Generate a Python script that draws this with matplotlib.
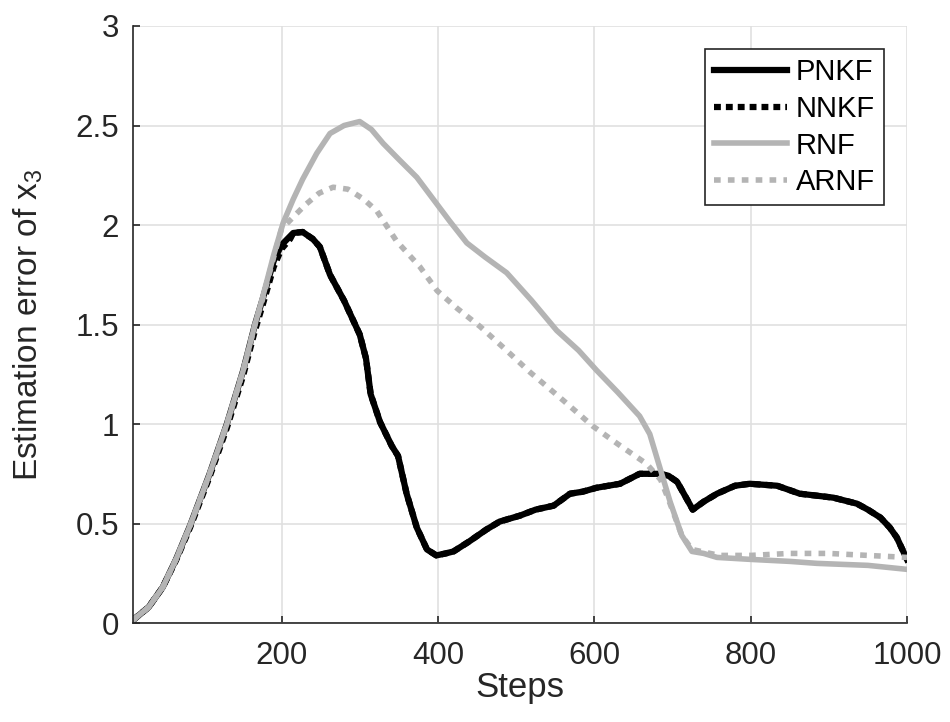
import matplotlib
matplotlib.use("Agg")
import matplotlib.pyplot as plt

# values
rnf_x = [10, 30, 48, 65, 83, 108, 130, 151, 166, 176, 190, 202, 215, 227, 245,
         262, 280, 300, 315, 330, 350, 373, 394, 415, 437, 460, 488, 520, 552,
         580, 603, 630, 658, 671, 684, 697, 712, 725, 740, 757, 800, 850, 885,
         950, 1000]
rnf_y = [0.015, 0.08, 0.18, 0.32, 0.49, 0.75, 1.00, 1.27, 1.50, 1.64, 1.85, 2.01,
         2.13, 2.23, 2.36, 2.46, 2.50, 2.52, 2.48, 2.41, 2.33, 2.24, 2.13, 2.02,
         1.91, 1.84, 1.76, 1.62, 1.47, 1.37, 1.27, 1.16, 1.04, 0.95, 0.78, 0.61,
         0.44, 0.36, 0.35, 0.33, 0.32, 0.31, 0.30, 0.29, 0.27]

arnf_x = [10, 30, 48, 65, 83, 108, 130, 151, 166, 176, 190, 200, 215, 230, 248,
          266, 285, 305, 322, 347, 377, 399, 425, 454, 485, 518, 560, 598, 630,
          667, 685, 697, 712, 725, 760, 800, 850, 900, 950, 1000]
arnf_y = [0.015, 0.08, 0.18, 0.32, 0.49, 0.75, 1.00, 1.27, 1.50, 1.63, 1.84, 1.98,
          2.04, 2.10, 2.16, 2.19, 2.18, 2.13, 2.07, 1.92, 1.79, 1.67, 1.58, 1.49,
          1.38, 1.26, 1.12, 0.99, 0.90, 0.80, 0.72, 0.60, 0.44, 0.37, 0.34, 0.34,
          0.35, 0.35, 0.34, 0.33]

pnkf_x = [10, 30, 48, 65, 83, 108, 130, 151, 166, 176, 190, 200, 215, 227, 240,
          249, 262, 280, 300, 308, 314, 326, 341, 349, 360, 373, 386, 398, 410,
          420, 440, 462, 479, 505, 525, 548, 569, 585, 603, 633, 658, 684, 695,
          706, 716, 726, 740, 757, 780, 799, 834, 863, 885, 906, 936, 950, 966,
          978, 987, 1000]
pnkf_y = [0.015, 0.08, 0.18, 0.32, 0.49, 0.75, 1.00, 1.27, 1.50, 1.63, 1.82, 1.90,
          1.96, 1.965, 1.93, 1.89, 1.75, 1.62, 1.45, 1.33, 1.15, 1.01, 0.89, 0.84,
          0.65, 0.48, 0.37, 0.34, 0.35, 0.36, 0.41, 0.47, 0.51, 0.54, 0.57, 0.59,
          0.65, 0.66, 0.68, 0.70, 0.75, 0.75, 0.74, 0.71, 0.64, 0.57, 0.61, 0.65,
          0.69, 0.70, 0.69, 0.65, 0.64, 0.63, 0.60, 0.57, 0.53, 0.48, 0.43, 0.32]

nnkf_x = [10, 30, 48, 65, 83, 108, 130, 151, 166, 176, 190, 200, 211] + pnkf_x[12:]
nnkf_y = [0.015, 0.08, 0.18, 0.315, 0.48, 0.735, 0.98, 1.245, 1.47, 1.60, 1.79,
          1.88, 1.93] + pnkf_y[12:]

plt.rcParams['font.family'] = ['Liberation Sans', 'DejaVu Sans']
plt.rcParams['mathtext.fontset'] = 'custom'
plt.rcParams['mathtext.rm'] = 'Liberation Sans'
plt.rcParams['mathtext.it'] = 'Liberation Sans'

gray = '#b4b4b4'

fig = plt.figure(figsize=(9.5, 7.22), dpi=100)
ax = fig.add_axes([0.14, 0.137, 0.8147, 0.827])

ax.plot(pnkf_x, pnkf_y, color='black', lw=4.5, label='PNKF')
ax.plot(nnkf_x, nnkf_y, color='black', lw=4.5, dashes=(1.1, 0.8),
        dash_capstyle='butt', label='NNKF')
ax.plot(rnf_x, rnf_y, color=gray, lw=4.0, label='RNF')
ax.plot(arnf_x, arnf_y, color=gray, lw=4.0, dashes=(1.2, 1.3),
        dash_capstyle='butt', label='ARNF')

ax.set_xlim(10, 1000)
ax.set_ylim(0, 3)
ax.set_xticks([200, 400, 600, 800, 1000])
ax.set_yticks([0, 0.5, 1, 1.5, 2, 2.5, 3])
ax.set_yticklabels(['0', '0.5', '1', '1.5', '2', '2.5', '3'])
ax.grid(True, color='#e0e0e0', lw=1.2)
ax.set_axisbelow(True)

for s in ['top', 'right']:
    ax.spines[s].set_visible(False)
for s in ['left', 'bottom']:
    ax.spines[s].set_color('#262626')
    ax.spines[s].set_linewidth(1.2)
ax.tick_params(direction='in', length=5, width=1.2, colors='#262626',
               labelsize=22.5)
ax.tick_params(axis='y', pad=10)
ax.tick_params(axis='x', pad=13)

ax.set_xlabel('Steps', fontsize=25, color='#262626', labelpad=0)
ax.set_ylabel('Estimation error of x$_{3}$', fontsize=24, color='#262626',
              labelpad=22)

leg = ax.legend(loc='upper right', fontsize=21, frameon=True, fancybox=False,
                edgecolor='#262626', framealpha=1, handlelength=2.5,
                handletextpad=0.3, labelspacing=0.3, borderpad=0.3,
                borderaxespad=0.8)
leg.get_frame().set_linewidth(1.2)

plt.savefig('out.png', dpi=100)
plt.close()
